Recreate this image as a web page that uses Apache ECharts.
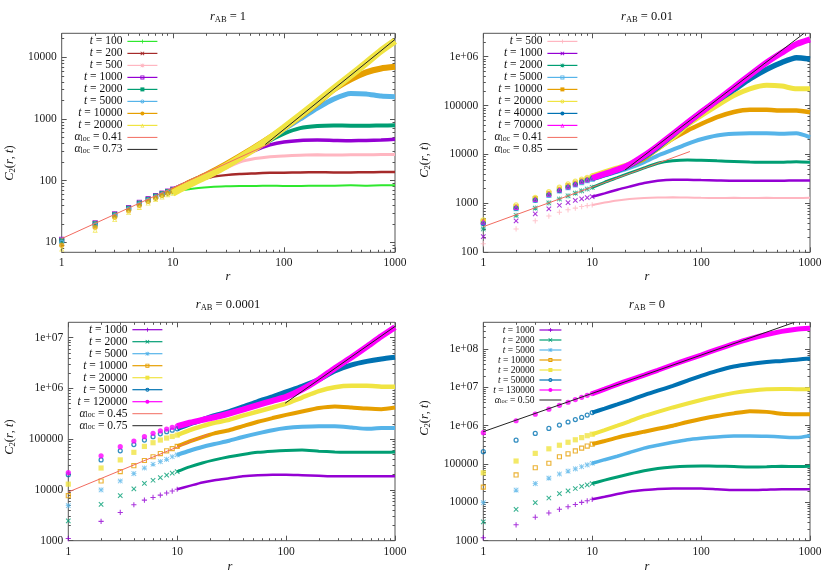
<!DOCTYPE html>
<html>
<head>
<meta charset="utf-8">
<script src="https://cdn.jsdelivr.net/npm/echarts@6/dist/echarts.min.js"></script>
<style>
  html, body { margin: 0; padding: 0; background: #fff; }
  #chart { width: 830px; height: 577px; }
</style>
</head>
<body>
<div id="chart"></div>
<script>
// ---- shared r grid and tick labels
var rSmall = [1, 2, 3, 4, 5, 6, 7, 8, 9, 10];
var rLarge = [13, 17, 22, 30, 40, 55, 75, 100, 140, 200, 280, 400, 550, 750, 1000];
var xTickVals = [1, 10, 100, 1000];
var xTickLabels = ['1', '10', '100', '1000'];
var minorSteps = [2, 3, 4, 5, 6, 7, 8, 9];

// ---- r_AB = 1
var p1Title = '1';
var p1Times = ['100', '200', '500', '1000', '2000', '5000', '10000', '20000'];
var p1Small = [
  [11, 20, 28, 35, 41, 47, 52, 57, 61, 65],
  [11, 20.5, 28.5, 36, 43, 49, 55, 60, 64, 68],
  [11, 20.7, 29, 36.5, 44, 50.5, 57, 62.5, 67.5, 72],
  [11.2, 20.8, 29, 36.5, 44.6, 51, 57.5, 63, 68, 73],
  [10.6, 20, 28, 35.5, 43, 49.5, 56, 61.5, 66.5, 71],
  [10, 19, 27, 34.5, 41.5, 48, 54, 59.5, 64.5, 69],
  [9, 17.5, 25.5, 32.5, 39.5, 46, 52, 57.5, 62.5, 67],
  [7.8, 15.8, 23.5, 30.5, 37, 43.5, 49.5, 54.5, 59.5, 63]
];
var p1Large = [
  [71, 76, 79, 81, 82, 82, 83, 82, 82, 83, 83, 84, 83, 84, 84],
  [84, 100, 114, 123, 128, 131, 134, 135, 136, 137, 136, 136, 137, 138, 138],
  [88, 108, 130, 160, 200, 228, 245, 252, 258, 262, 260, 263, 262, 265, 265],
  [90, 112, 137, 180, 235, 310, 380, 425, 450, 455, 450, 445, 448, 455, 468],
  [89, 111, 137, 182, 240, 325, 450, 580, 710, 770, 785, 780, 775, 785, 790],
  [87, 109, 136, 183, 245, 340, 480, 680, 1000, 1500, 2100, 2600, 2550, 2350, 2300],
  [86, 108, 136, 184, 248, 350, 500, 710, 1100, 1800, 3000, 4400, 5700, 6600, 7000],
  [81, 102, 128, 172, 235, 335, 490, 720, 1150, 1900, 3100, 5100, 8100, 12800, 18500]
];
var p1FitAlpha = ['0.41', '0.73'];
var p1FitR = [[1, 75], [68, 1000]];
var p1FitC = [[11.5, 400], [385, 19500]];
var p1YRange = [6.9, 24500];
var p1YTickVals = [10, 100, 1000, 10000];
var p1YTickLabels = ['10', '100', '1000', '10000'];

// ---- r_AB = 0.01
var p2Title = '0.01';
var p2Times = ['500', '1000', '2000', '5000', '10000', '20000', '40000', '70000'];
var p2Small = [
  [150, 300, 440, 550, 660, 740, 800, 860, 900, 930],
  [210, 437, 610, 770, 915, 1040, 1150, 1240, 1310, 1370],
  [300, 570, 800, 1020, 1230, 1430, 1620, 1800, 1970, 2120],
  [400, 780, 1150, 1450, 1800, 2100, 2400, 2650, 2900, 3100],
  [430, 850, 1250, 1600, 1950, 2300, 2600, 2900, 3150, 3400],
  [460, 930, 1330, 1750, 2140, 2500, 2850, 3150, 3400, 3650],
  [390, 800, 1170, 1500, 1830, 2150, 2450, 2750, 3000, 3250],
  [420, 830, 1200, 1550, 1900, 2200, 2500, 2800, 3050, 3300]
];
var p2Large = [
  [1040, 1150, 1230, 1290, 1320, 1330, 1320, 1300, 1290, 1300, 1290, 1300, 1290, 1290, 1300],
  [1600, 1900, 2200, 2600, 2900, 3050, 3050, 3000, 2950, 2900, 2900, 2900, 2900, 2950, 2950],
  [2700, 3350, 4150, 5300, 6600, 7400, 7700, 7600, 7400, 7200, 7000, 6900, 6950, 7100, 6900],
  [3700, 4400, 5300, 7000, 9500, 12500, 16500, 20500, 24500, 26500, 27000, 27000, 26500, 27000, 22500],
  [4100, 5000, 6000, 8200, 13000, 21000, 31000, 42000, 58000, 74000, 82000, 82000, 79000, 79000, 73000],
  [4400, 5300, 6400, 9000, 13500, 22000, 40000, 62000, 100000, 160000, 220000, 260000, 250000, 220000, 220000],
  [3900, 4700, 6000, 9000, 14000, 25000, 44000, 72000, 125000, 210000, 350000, 550000, 760000, 950000, 890000],
  [4000, 4900, 6200, 9500, 15000, 26000, 45000, 73000, 128000, 235000, 420000, 760000, 1200000, 1800000, 2250000]
];
var p2FitAlpha = ['0.41', '0.85'];
var p2FitR = [[1, 79], [20, 880]];
var p2FitC = [[334, 11500], [4800, 2990000]];
var p2YRange = [100, 3000000];
var p2YTickVals = [100, 1000, 10000, 100000, 1000000];
var p2YTickLabels = ['100', '1000', '10000', '100000', '1e+06'];

// ---- r_AB = 0.0001
var p3Title = '0.0001';
var p3Times = ['1000', '2000', '5000', '10000', '20000', '50000', '120000'];
var p3Small = [
  [1100, 2400, 3600, 5100, 6300, 7100, 7900, 8700, 9500, 10300],
  [2450, 5200, 7700, 10500, 13500, 15500, 17500, 19500, 21500, 23000],
  [4900, 10000, 15000, 21000, 27000, 32000, 36000, 40000, 45000, 49000],
  [7700, 15000, 23000, 30000, 38000, 45000, 52000, 59000, 65000, 72000],
  [13000, 27000, 39000, 55000, 72000, 85000, 96000, 105000, 113000, 120000],
  [20000, 39000, 59000, 78000, 96000, 112000, 127000, 140000, 150000, 160000],
  [22000, 47000, 71000, 92000, 112000, 130000, 145000, 158000, 170000, 180000]
];
var p3Large = [
  [12000, 14000, 15500, 17000, 18500, 19500, 20000, 20000, 19500, 19000, 18500, 18500, 18500, 18500, 18500],
  [28500, 34000, 39000, 45000, 50000, 55000, 58000, 60000, 61000, 58000, 56000, 55000, 55000, 55000, 56000],
  [59000, 70000, 80000, 93000, 110000, 130000, 150000, 165000, 175000, 180000, 180000, 170000, 160000, 165000, 165000],
  [90000, 110000, 130000, 150000, 180000, 220000, 260000, 300000, 350000, 410000, 440000, 420000, 400000, 390000, 420000],
  [150000, 180000, 210000, 240000, 290000, 350000, 420000, 500000, 660000, 880000, 1050000, 1120000, 1120000, 1080000, 1070000],
  [200000, 240000, 290000, 350000, 430000, 550000, 680000, 850000, 1100000, 1500000, 2200000, 2900000, 3400000, 3800000, 4100000],
  [210000, 240000, 270000, 320000, 380000, 470000, 570000, 680000, 950000, 1500000, 2500000, 4100000, 6600000, 10600000, 16000000]
];
var p3FitAlpha = ['0.45', '0.75'];
var p3FitR = [[1, 19.5], [98, 1000]];
var p3FitC = [[9100, 126000], [510000, 16600000]];
var p3YRange = [1000, 20000000];
var p3YTickVals = [1000, 10000, 100000, 1000000, 10000000];
var p3YTickLabels = ['1000', '10000', '100000', '1e+06', '1e+07'];

// ---- r_AB = 0
var p4Title = '0';
var p4Times = ['1000', '2000', '5000', '10000', '20000', '50000', '130000'];
var p4Small = [
  [1200, 2600, 4100, 5300, 6600, 7700, 8800, 10000, 11000, 12000],
  [3100, 6600, 9800, 13000, 17000, 20000, 23000, 26000, 28500, 31000],
  [9800, 21000, 31000, 43000, 55000, 65000, 75000, 85000, 95000, 105000],
  [25000, 52000, 80000, 105000, 155000, 185000, 220000, 260000, 295000, 330000],
  [59000, 120000, 190000, 250000, 310000, 370000, 430000, 490000, 550000, 600000],
  [210000, 420000, 630000, 850000, 1040000, 1250000, 1450000, 1650000, 1900000, 2200000],
  [660000, 1350000, 2000000, 2700000, 3400000, 4100000, 4800000, 5500000, 6200000, 6900000]
];
var p4Large = [
  [14000, 16500, 19000, 21000, 22500, 23000, 23000, 23000, 22000, 21000, 21000, 21500, 22000, 22000, 22000],
  [38000, 46000, 55000, 67000, 77000, 84000, 88000, 89000, 88000, 86000, 84000, 85000, 87000, 86000, 87000],
  [130000, 160000, 200000, 260000, 310000, 370000, 430000, 470000, 510000, 540000, 540000, 530000, 510000, 490000, 550000],
  [400000, 490000, 580000, 700000, 830000, 1000000, 1250000, 1500000, 1800000, 2100000, 2400000, 2300000, 2050000, 2000000, 2000000],
  [770000, 1000000, 1300000, 1800000, 2300000, 3000000, 3800000, 4700000, 5900000, 7200000, 8200000, 9000000, 9100000, 9000000, 8900000],
  [2800000, 3600000, 4600000, 6300000, 8200000, 11000000, 15000000, 20000000, 27000000, 35000000, 41000000, 46000000, 49000000, 53000000, 57000000],
  [9000000, 12000000, 15500000, 21000000, 28000000, 39000000, 53000000, 70000000, 98000000, 138000000, 185000000, 240000000, 290000000, 330000000, 350000000]
];
var p4FitAlpha = ['0.50'];
var p4FitR = [[1, 720]];
var p4FitC = [[700000, 500000000]];
var p4YRange = [1000, 500000000];
var p4YTickVals = [1000, 10000, 100000, 1000000, 10000000, 100000000];
var p4YTickLabels = ['1000', '10000', '100000', '1e+06', '1e+07', '1e+08'];

// ---- styling
var FONT = '"Liberation Serif", "Times New Roman", serif';
var C = {
  green: '#2ee82e', brown: '#a52a2a', pink: '#ffb6c1', purple: '#9400d3',
  teal: '#009e73', sky: '#56b4e9', orange: '#e69f00', yellow: '#f0e442',
  blue: '#0072b2', magenta: '#ff00ff', red: '#f26b5f', black: '#222222'
};
// gnuplot-like point types; hollow ones are drawn as rings so the legend keeps them small
var PLUS = 'path://M4,0H6V10H4Z M0,4H10V6H0Z';
var CROSS = 'path://M0,1.4L1.4,0L10,8.6L8.6,10Z M8.6,0L10,1.4L1.4,10L0,8.6Z';
var STAR = 'path://M4.3,0H5.7V10H4.3Z M0,4.3H10V5.7H0Z M0,1.2L1.2,0L10,8.8L8.8,10Z M8.8,0L10,1.2L1.2,10L0,8.8Z';
var BOX = 'path://M0,0H10V10H0Z M2.2,2.2V7.8H7.8V2.2Z';
var FBOX = 'path://M0,0H10V10H0Z';
var RING = 'path://M5,0A5,5,0,1,1,5,10A5,5,0,1,1,5,0Z M5,2.4A2.6,2.6,0,1,0,5,7.6A2.6,2.6,0,1,0,5,2.4Z';
var DOT = 'path://M5,0A5,5,0,1,1,5,10A5,5,0,1,1,5,0Z';
var TRI = 'path://M5,0L10,10H0Z M5,4L2.6,8.4H7.4Z';
var symbols = [PLUS, CROSS, STAR, BOX, FBOX, RING, DOT, TRI];

var panels = [
  { title: p1Title, times: p1Times, small: p1Small, large: p1Large,
    fitAlpha: p1FitAlpha, fitR: p1FitR, fitC: p1FitC,
    yRange: p1YRange, yVals: p1YTickVals, yLabels: p1YTickLabels,
    colors: [C.green, C.brown, C.pink, C.purple, C.teal, C.sky, C.orange, C.yellow],
    widths: [2, 2.5, 3, 3.5, 4, 5, 6, 7], fitColors: [C.red, C.black],
    grid: { left: 61.7, top: 33.3, width: 333.3, height: 219 },
    leg: { right: 672, top: 35.4, font: 11.5, lh: 11.2, iw: 30 },
    titlePos: [228, 17], rPos: [228, 277], cPos: [10, 163] },
  { title: p2Title, times: p2Times, small: p2Small, large: p2Large,
    fitAlpha: p2FitAlpha, fitR: p2FitR, fitC: p2FitC,
    yRange: p2YRange, yVals: p2YTickVals, yLabels: p2YTickLabels,
    colors: [C.pink, C.purple, C.teal, C.sky, C.orange, C.yellow, C.blue, C.magenta],
    widths: [2, 2.5, 3, 4, 4.5, 5, 5.5, 6], fitColors: [C.red, C.black],
    grid: { left: 483.3, top: 33.3, width: 326.7, height: 219 },
    leg: { right: 252, top: 35.4, font: 11.5, lh: 11.2, iw: 30 },
    titlePos: [647, 17], rPos: [647, 277], cPos: [425, 160] },
  { title: p3Title, times: p3Times, small: p3Small, large: p3Large,
    fitAlpha: p3FitAlpha, fitR: p3FitR, fitC: p3FitC,
    yRange: p3YRange, yVals: p3YTickVals, yLabels: p3YTickLabels,
    colors: [C.purple, C.teal, C.sky, C.orange, C.yellow, C.blue, C.magenta],
    widths: [2.5, 3, 4, 4, 4.5, 5, 6], fitColors: [C.red, C.black],
    grid: { left: 68.3, top: 322.3, width: 326.7, height: 218.4 },
    leg: { right: 667, top: 323.7, font: 11.5, lh: 11.2, iw: 30 },
    titlePos: [228, 305], rPos: [230, 567], cPos: [10, 437] },
  { title: p4Title, times: p4Times, small: p4Small, large: p4Large,
    fitAlpha: p4FitAlpha, fitR: p4FitR, fitC: p4FitC,
    yRange: p4YRange, yVals: p4YTickVals, yLabels: p4YTickLabels,
    colors: [C.purple, C.teal, C.sky, C.orange, C.yellow, C.blue, C.magenta],
    widths: [2.5, 3, 3.5, 4, 4, 4, 5], fitColors: [C.black],
    grid: { left: 483.3, top: 322.3, width: 326.7, height: 218.4 },
    leg: { right: 268, top: 325, font: 9.5, lh: 9.05, iw: 22 },
    titlePos: [647, 305], rPos: [647, 567], cPos: [425, 418] }
];

function minorVals(lo, hi) {
  var out = [];
  for (var d = Math.pow(10, Math.floor(Math.log10(lo))); d < hi; d *= 10) {
    minorSteps.forEach(function (m) {
      var v = d * m;
      if (v > lo && v < hi) out.push(v);
    });
  }
  return out;
}

function logAxis(gi, pos, range, ticks, vals, labels) {
  var minor = !labels && ticks !== vals;
  return {
    gridIndex: gi, type: 'log', position: pos, min: range[0], max: range[1],
    axisLine: { show: false },
    splitLine: { show: false },
    axisTick: { inside: true, length: minor ? 2.5 : 5, customValues: ticks,
      lineStyle: { color: '#555', width: 1 } },
    axisLabel: labels ? {
      customValues: vals, fontFamily: FONT, fontSize: 11.5, color: '#1a1a1a', margin: 5,
      formatter: function (v) {
        for (var k = 0; k < vals.length; k++) {
          if (Math.abs(vals[k] - v) / vals[k] < 1e-6) return labels[k];
        }
        return '';
      }
    } : { show: false }
  };
}

var richBase = function (size, lh) {
  return {
    i: { fontFamily: FONT, fontSize: size, fontStyle: 'italic', lineHeight: lh },
    s: { fontFamily: FONT, fontSize: size * 0.68, lineHeight: lh, verticalAlign: 'bottom' }
  };
};

var option = {
  animation: false,
  backgroundColor: '#ffffff',
  grid: [], xAxis: [], yAxis: [], legend: [], series: [], graphic: []
};
var labelMap = {};

panels.forEach(function (p, i) {
  option.grid.push(Object.assign({ show: true, borderColor: '#555', borderWidth: 1 }, p.grid));
  var xi = option.xAxis.length, yi = option.yAxis.length;
  var xr = [1, 1000];
  option.xAxis.push(logAxis(i, 'bottom', xr, xTickVals, xTickVals, xTickLabels));
  option.xAxis.push(logAxis(i, 'bottom', xr, minorVals(1, 1000), xTickVals, null));
  option.xAxis.push(logAxis(i, 'top', xr, xTickVals, xTickVals, null));
  option.xAxis.push(logAxis(i, 'top', xr, minorVals(1, 1000), xTickVals, null));
  var ymin = minorVals(p.yRange[0], p.yRange[1]);
  option.yAxis.push(logAxis(i, 'left', p.yRange, p.yVals, p.yVals, p.yLabels));
  option.yAxis.push(logAxis(i, 'left', p.yRange, ymin, p.yVals, null));
  option.yAxis.push(logAxis(i, 'right', p.yRange, p.yVals, p.yVals, null));
  option.yAxis.push(logAxis(i, 'right', p.yRange, ymin, p.yVals, null));

  var legendData = [];
  p.times.forEach(function (t, k) {
    var name = 'p' + i + '_t' + k;
    legendData.push(name);
    labelMap[name] = '{i|t} = ' + t;
    var lineData = [[rSmall[rSmall.length - 1], p.small[k][rSmall.length - 1]]]
      .concat(rLarge.map(function (r, j) { return [r, p.large[k][j]]; }));
    option.series.push({
      type: 'line', name: name, xAxisIndex: xi, yAxisIndex: yi, data: lineData,
      showSymbol: false, symbol: symbols[k], symbolSize: 4, smooth: 0.2,
      lineStyle: { width: p.widths[k], color: p.colors[k] },
      itemStyle: { color: p.colors[k] }, emphasis: { disabled: true }
    });
    option.series.push({
      type: 'scatter', name: name, xAxisIndex: xi, yAxisIndex: yi,
      data: rSmall.map(function (r, j) { return [r, p.small[k][j]]; }),
      symbol: symbols[k], symbolSize: 5.2,
      itemStyle: { color: p.colors[k] },
      emphasis: { disabled: true }
    });
  });
  p.fitAlpha.forEach(function (a, k) {
    var name = 'p' + i + '_fit' + k;
    // plain thin bar as legend sample for a fit line
    legendData.push({ name: name, icon: 'path://M0,0H' + p.leg.iw + 'V1H0Z' });
    labelMap[name] = '{i|α}{s|loc} = ' + a;
    option.series.push({
      type: 'line', name: name, xAxisIndex: xi, yAxisIndex: yi, symbol: 'none', z: 4,
      data: p.fitR[k].map(function (r, j) { return [r, p.fitC[k][j]]; }),
      lineStyle: { width: 1, color: p.fitColors[k] }, itemStyle: { color: p.fitColors[k] },
      emphasis: { disabled: true }
    });
  });

  option.legend.push({
    orient: 'vertical', align: 'right', right: p.leg.right, top: p.leg.top,
    padding: 0, itemWidth: p.leg.iw, itemHeight: 5, itemGap: 0,
    selectedMode: false, data: legendData,
    formatter: function (n) { return labelMap[n]; },
    lineStyle: { width: 1.2 },
    textStyle: { fontFamily: FONT, fontSize: p.leg.font, color: '#111', lineHeight: p.leg.lh,
      rich: richBase(p.leg.font, p.leg.lh) }
  });

  option.graphic.push({
    type: 'text', x: p.titlePos[0], y: p.titlePos[1],
    style: { text: '{i|r}{s|AB} = ' + p.title, fontFamily: FONT, fontSize: 12.5, fill: '#111',
      align: 'center', verticalAlign: 'middle', rich: richBase(12.5, 14) }
  });
  option.graphic.push({
    type: 'text', x: p.rPos[0], y: p.rPos[1],
    style: { text: '{i|r}', fontFamily: FONT, fontSize: 12.5, fill: '#111',
      align: 'center', verticalAlign: 'middle', rich: richBase(12.5, 14) }
  });
  option.graphic.push({
    type: 'text', x: p.cPos[0], y: p.cPos[1], rotation: Math.PI / 2,
    style: { text: '{i|C}{s|2}({i|r}, {i|t})', fontFamily: FONT, fontSize: 12.5, fill: '#111',
      align: 'center', verticalAlign: 'middle', rich: richBase(12.5, 14) }
  });
});

var chart = echarts.init(document.getElementById('chart'));
chart.setOption(option);
</script>
</body>
</html>
